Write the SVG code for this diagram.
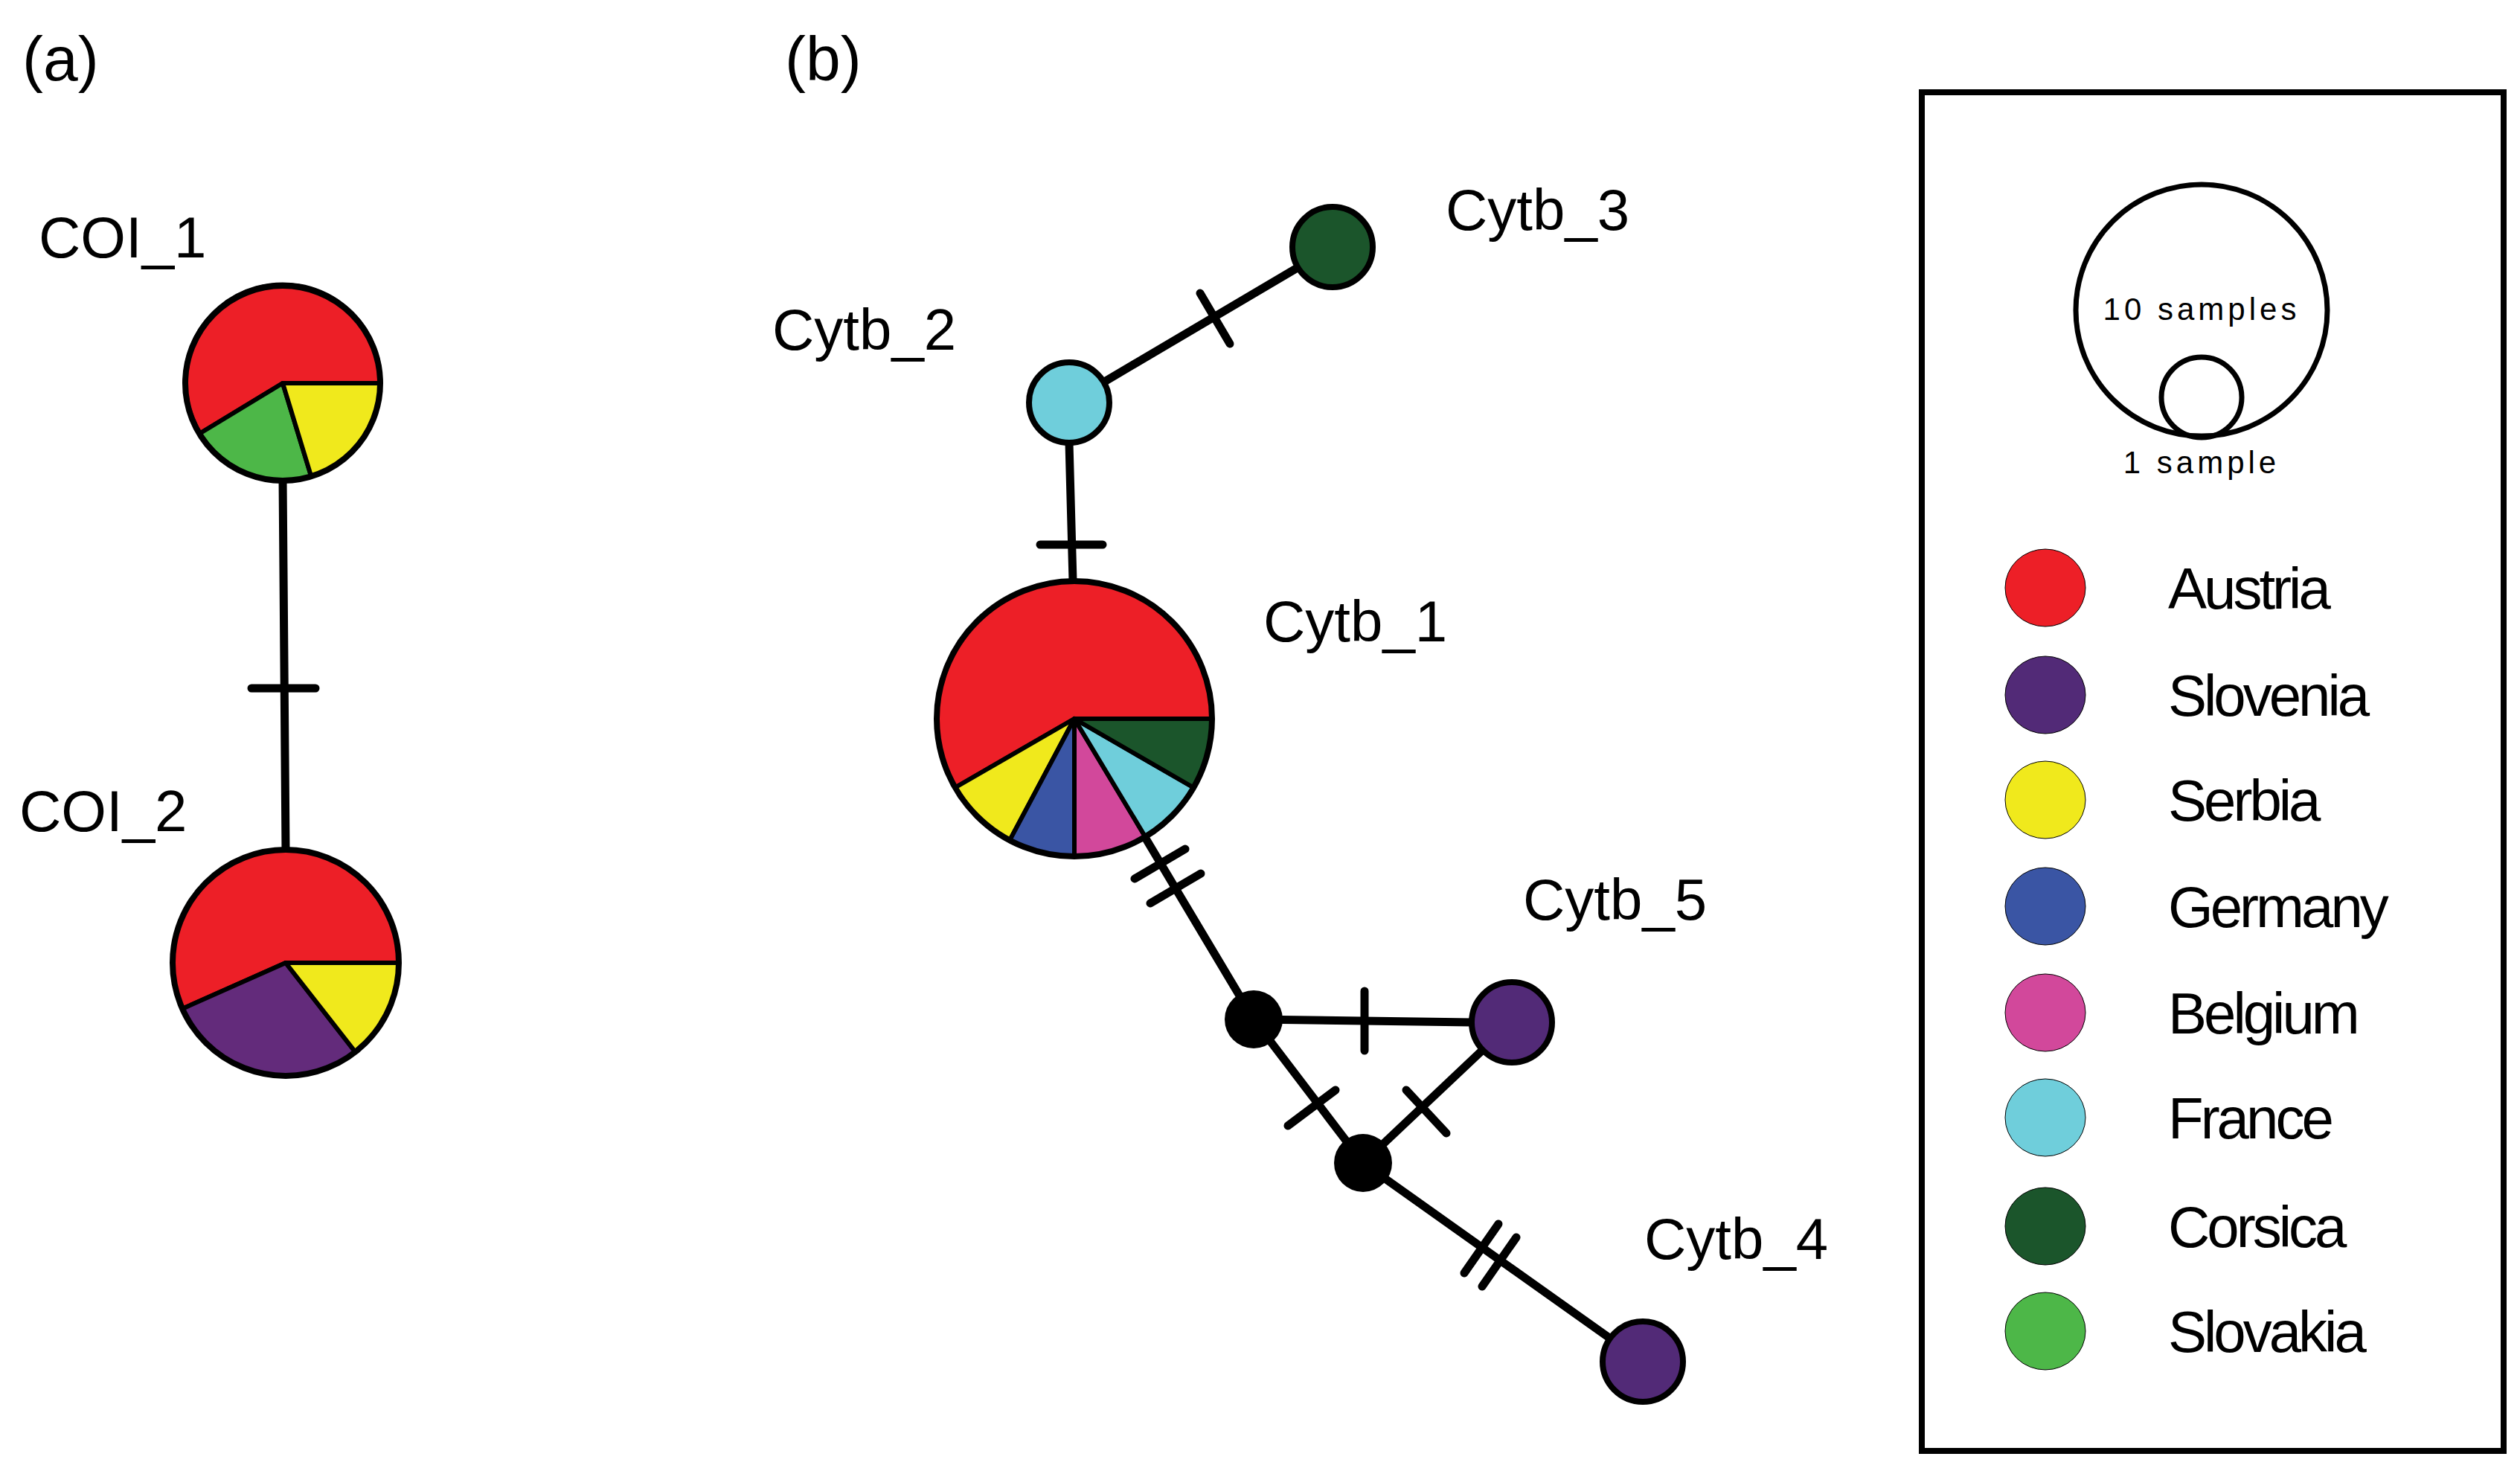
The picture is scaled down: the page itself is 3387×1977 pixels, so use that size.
<svg xmlns="http://www.w3.org/2000/svg" width="3387" height="1977" viewBox="0 0 3387 1977">
<style>
.t{font-family:"Liberation Sans",Arial,sans-serif;fill:#000}
.lbl{font-size:78px}
.pn{font-size:84px}
.leg{font-size:78px;letter-spacing:-4px}
.sm{font-size:42px;letter-spacing:5px}
.ln{stroke:#000;stroke-width:11;fill:none;stroke-linecap:round}
.sl{stroke:#000;stroke-width:6;stroke-linejoin:round}
.nd{stroke:#000;stroke-width:8}
</style>
<rect width="3387" height="1977" fill="#fff"/>
<text class="t pn" x="30" y="108">(a)</text>
<text class="t pn" x="1055" y="108">(b)</text>
<g id="connectors">
<line class="ln" x1="380" y1="643" x2="384" y2="1142"/>
<line class="ln" x1="338" y1="925" x2="424" y2="925"/>
<line class="ln" x1="1437" y1="541" x2="1791" y2="332"/>
<line class="ln" x1="1613" y1="394" x2="1653" y2="462"/>
<line class="ln" x1="1437" y1="595" x2="1442" y2="781"/>
<line class="ln" x1="1398" y1="732" x2="1482" y2="732"/>
<line class="ln" x1="1537" y1="1122" x2="1685" y2="1370"/>
<line class="ln" x1="1525" y1="1181" x2="1593" y2="1141"/>
<line class="ln" x1="1546" y1="1214" x2="1614" y2="1174"/>
<line class="ln" x1="1685" y1="1370" x2="1978" y2="1374"/>
<line class="ln" x1="1834" y1="1332" x2="1834" y2="1412"/>
<line class="ln" x1="1685" y1="1370" x2="1832" y2="1563"/>
<line class="ln" x1="1731" y1="1513" x2="1795" y2="1465"/>
<line class="ln" x1="2032" y1="1374" x2="1832" y2="1563"/>
<line class="ln" x1="1890" y1="1465" x2="1944" y2="1523"/>
<line class="ln" x1="1832" y1="1563" x2="2208" y2="1830"/>
<line class="ln" x1="1968" y1="1711" x2="2014" y2="1645"/>
<line class="ln" x1="1992" y1="1729" x2="2038" y2="1663"/>
</g>
<g id="COI_1">
<path class="sl" fill="#ed1f27" d="M380,515 L511,515 A131,131 0 1 0 268.7,582.5 Z"/>
<path class="sl" fill="#4db748" d="M380,515 L268.7,582.5 A131,131 0 0 0 418.3,640.3 Z"/>
<path class="sl" fill="#f0e91c" d="M380,515 L418.3,640.3 A131,131 0 0 0 511,515 Z"/>
<circle cx="380" cy="515" r="131" fill="none" stroke="#000" stroke-width="8"/>
<text class="t lbl" x="52" y="346">COI_1</text>
</g>
<g id="COI_2">
<path class="sl" fill="#ed1f27" d="M384,1294 L536,1294 A152,152 0 1 0 245.1,1355.8 Z"/>
<path class="sl" fill="#632b7b" d="M384,1294 L245.1,1355.8 A152,152 0 0 0 477.6,1413.8 Z"/>
<path class="sl" fill="#f0e91c" d="M384,1294 L477.6,1413.8 A152,152 0 0 0 536,1294 Z"/>
<circle cx="384" cy="1294" r="152" fill="none" stroke="#000" stroke-width="8"/>
<text class="t lbl" x="26" y="1117">COI_2</text>
</g>
<g id="Cytb_1">
<path class="sl" fill="#ed1f27" d="M1444,966 L1629,966 A185,185 0 1 0 1283.8,1058.5 Z"/>
<path class="sl" fill="#f0e91c" d="M1444,966 L1283.8,1058.5 A185,185 0 0 0 1357.1,1129.4 Z"/>
<path class="sl" fill="#3a55a4" d="M1444,966 L1357.1,1129.4 A185,185 0 0 0 1444,1151 Z"/>
<path class="sl" fill="#d2489b" d="M1444,966 L1444,1151 A185,185 0 0 0 1539.3,1124.6 Z"/>
<path class="sl" fill="#6fcedb" d="M1444,966 L1539.3,1124.6 A185,185 0 0 0 1604.2,1058.5 Z"/>
<path class="sl" fill="#1b552b" d="M1444,966 L1604.2,1058.5 A185,185 0 0 0 1629,966 Z"/>
<circle cx="1444" cy="966" r="185" fill="none" stroke="#000" stroke-width="8"/>
<text class="t lbl" x="1698" y="862">Cytb_1</text>
</g>
<g id="Cytb_2"><circle class="nd" cx="1437" cy="541" r="54" fill="#6fcedb"/><text class="t lbl" x="1038" y="470">Cytb_2</text></g>
<g id="Cytb_3"><circle class="nd" cx="1791" cy="332" r="54" fill="#1b552b"/><text class="t lbl" x="1943" y="309">Cytb_3</text></g>
<g id="Cytb_5"><circle class="nd" cx="2032" cy="1374" r="54" fill="#522a77"/><text class="t lbl" x="2047" y="1236">Cytb_5</text></g>
<g id="Cytb_4"><circle class="nd" cx="2208" cy="1830" r="54" fill="#522a77"/><text class="t lbl" x="2210" y="1692">Cytb_4</text></g>
<g id="mv1"><circle cx="1685" cy="1370" r="39" fill="#000"/></g>
<g id="mv2"><circle cx="1832" cy="1563" r="39" fill="#000"/></g>
<g id="legend">
<rect x="2583" y="124" width="782" height="1826" fill="none" stroke="#000" stroke-width="8"/>
<circle cx="2959" cy="417" r="169" fill="none" stroke="#000" stroke-width="7"/>
<circle cx="2959" cy="534" r="54" fill="none" stroke="#000" stroke-width="7"/>
<text class="t sm" x="2959" y="430" text-anchor="middle">10 samples</text>
<text class="t sm" x="2959" y="636" text-anchor="middle">1 sample</text>
<g stroke="#000" stroke-width="1">
<ellipse cx="2749" cy="790" rx="54" ry="52" fill="#ed1f27"/>
<ellipse cx="2749" cy="934" rx="54" ry="52" fill="#522a77"/>
<ellipse cx="2749" cy="1075" rx="54" ry="52" fill="#f0e91c"/>
<ellipse cx="2749" cy="1218" rx="54" ry="52" fill="#3a55a4"/>
<ellipse cx="2749" cy="1361" rx="54" ry="52" fill="#d2489b"/>
<ellipse cx="2749" cy="1502" rx="54" ry="52" fill="#6fcedb"/>
<ellipse cx="2749" cy="1648" rx="54" ry="52" fill="#1b552b"/>
<ellipse cx="2749" cy="1789" rx="54" ry="52" fill="#4db748"/>
</g>
<text class="t leg" x="2914" y="818">Austria</text>
<text class="t leg" x="2914" y="962">Slovenia</text>
<text class="t leg" x="2914" y="1103">Serbia</text>
<text class="t leg" x="2914" y="1246">Germany</text>
<text class="t leg" x="2914" y="1389">Belgium</text>
<text class="t leg" x="2914" y="1530">France</text>
<text class="t leg" x="2914" y="1676">Corsica</text>
<text class="t leg" x="2914" y="1817">Slovakia</text>
</g>
</svg>
